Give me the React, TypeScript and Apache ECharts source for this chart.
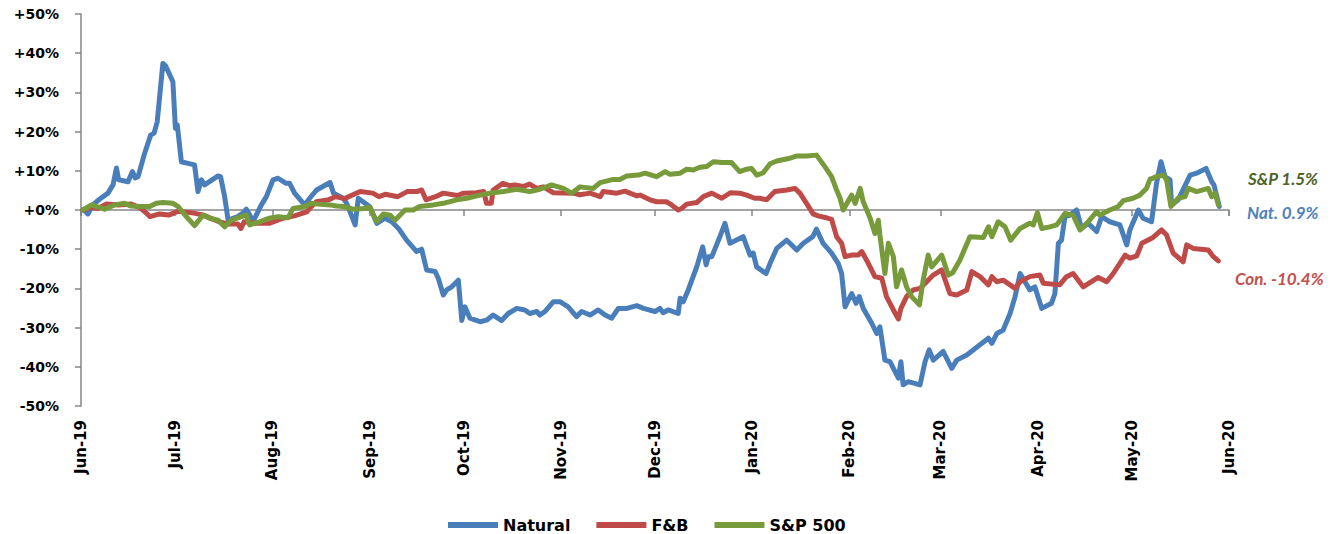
import React, { useEffect, useRef } from "react";
import * as echarts from "echarts";

// Days after 1 Jun 2019, cumulative % change
const START = new Date(2019, 5, 1).getTime();
const END = new Date(2020, 5, 1).getTime();
const DAY = 86400000;

const seriesNames = ["Natural", "F&B", "S&P 500"];
const seriesColors = ["#4A7EBB", "#BE4B48", "#779A3A"];

const natural: [number, number][] = [
  [1, 0], [2.2, -1], [3.8, 1.3], [6, 2.8], [8.6, 4.3], [10.2, 6.4], [11.3, 10.7], [12, 7.7], [15, 7.2], [16.4, 9.8],
  [17.3, 8.2], [18.2, 8.5], [20.3, 14.5], [22.2, 19.1], [23.3, 19.6], [24.3, 22.5], [26.1, 37.4], [27, 36.7], [29.3, 32.7],
  [30.1, 20.8], [30.7, 21.7], [32, 12.3], [34.1, 11.9], [36.2, 11.5], [37.3, 4.7], [38.4, 7.7], [39.4, 6.4], [43.7, 8.7],
  [44.5, 8.5], [45.8, 3.4], [46.9, -2.6], [50, -1.7], [51.6, -0.8], [52.7, 0.2], [53.8, -1.3], [54.8, -3], [57.5, 1.3],
  [59.1, 3.4], [61.2, 7.7], [62.8, 8.1], [65.4, 6.8], [66.5, 6.8], [68.1, 4.3], [71.3, 1.3], [72.9, 3], [75.1, 5.1],
  [79.4, 7], [80.5, 4.3], [83.6, 3], [84.7, 1.7], [87.4, -3.8], [88.4, 3], [92.1, 0.8], [94.3, -3.4], [96.9, -2.1],
  [99.1, -3], [101.2, -4.7], [103.8, -7.7], [107, -10.6], [108.6, -10], [110.2, -15.3], [112.9, -15.7], [113.9, -17.4],
  [115.5, -21.7], [116.6, -20.4], [118.2, -19.6], [120.3, -17.9], [121.4, -28.2], [122.4, -24.7], [124, -27.6],
  [127.2, -28.5], [129.3, -28.1], [131.4, -26.8], [134.1, -28.2], [136.2, -26.4], [138.9, -25.1], [141.5, -25.5],
  [143.1, -26.4], [145.3, -25.9], [146.3, -26.8], [147.9, -25.9], [150.6, -23.4], [152.7, -23.4], [155.3, -24.7],
  [158, -27.2], [159.6, -25.9], [162.3, -26.8], [164.9, -25.5], [167.1, -26.8], [169.2, -27.6], [171.3, -25.1],
  [174, -25.1], [177.2, -24.4], [179.3, -25.1], [183, -25.9], [184.6, -25.1], [185.6, -26.2], [187.2, -25.5],
  [190.4, -26.4], [191, -22.5], [192, -23.4], [193.6, -20.4], [196.3, -14.5], [198.2, -9.4], [199.3, -14], [200, -11.9],
  [201.1, -11.9], [203.7, -6.8], [205.3, -3.4], [206.9, -8.5], [211.1, -6.8], [213.3, -11.5], [214.3, -11], [215.4, -14.5],
  [218.4, -16.2], [219.7, -13.6], [221.8, -9.8], [225, -7.7], [228.2, -10.2], [230.3, -8.5], [233.3, -6.8], [234.5, -4.9],
  [236.6, -8.5], [239.3, -11], [241.4, -13.6], [242.5, -16.2], [243.6, -24.7], [245.7, -21.3], [247.1, -23.8],
  [248.1, -22.1], [249.4, -25.1], [252.1, -28.9], [253.7, -31.5], [254.7, -29.8], [256.3, -38.3], [257.9, -38.7],
  [260.6, -42.9], [261.4, -38.7], [262.1, -44.6], [263.7, -43.8], [267.5, -44.6], [269.1, -38.7], [270.4, -35.7],
  [271.7, -38.3], [274.9, -36.1], [277.6, -40.4], [279.2, -38.3], [282.4, -37], [286.6, -34.4], [289.3, -32.7],
  [290.4, -34], [292, -31.5], [294, -30.6], [296.2, -26.4], [297.8, -22.1], [299.4, -16.2], [302.5, -20.4], [304.1, -19.6],
  [306.3, -25.1], [309.4, -23.8], [310.5, -21.3], [311.6, -8.5], [312.6, -7.7], [313.7, -1.7], [315.3, -1.3], [317.4, 0],
  [319, -4.7], [321.1, -3.4], [323.8, -5.5], [325.4, -1.7], [328, -3], [331.2, -3.8], [333.4, -8.9], [334.4, -5.1],
  [337.1, 0], [338.6, -2.1], [341.3, -3], [342.9, 6.8], [344.3, 12.3], [345.6, 8.5], [347.2, 7.7], [347.7, 1.3],
  [349.8, 2.6], [353.6, 8.9], [355.7, 9.4], [358.7, 10.6], [360.5, 7.2], [361.2, 6.4], [362.9, 0.9],
];

const fnb: [number, number][] = [
  [0.6, 0], [3.3, 0.7], [5.4, 0.4], [8, 1.5], [12, 1.3], [16, 1.5], [19, 0.5], [21, -0.9], [22, -1.7], [25, -1],
  [28, -1.3], [31, -0.3], [36, -0.8], [39, -1.3], [44, -3], [47, -3.6], [50, -3.6], [51, -4.7], [52, -3], [56, -3.4],
  [60, -3.4], [64, -2.2], [68, -1.5], [72, -0.5], [73, 0.5], [75, 2.1], [79, 2.6], [81, 3.4], [84, 2.9], [89, 4.7],
  [93, 4.3], [95, 3.4], [97, 4], [101, 3.4], [104, 4.7], [107, 4.7], [108.6, 5.1], [110, 2.6], [113, 3.4], [115.5, 4.3],
  [120, 3.7], [122, 4.3], [126, 4.4], [128.4, 4.7], [129.3, 1.7], [130.8, 1.7], [131.4, 5.1], [134.5, 6.8], [136.7, 6.2],
  [138.3, 6.4], [141, 6], [143, 6.6], [145.3, 5.5], [147.4, 5.9], [150.6, 4.4], [157, 4.3], [159, 3.9], [162.3, 4.3],
  [165.5, 3.4], [166.5, 4.7], [170.8, 4.3], [173.4, 4.8], [177.2, 3.6], [178.2, 3.8], [181.4, 2.6], [183.5, 2.1],
  [186.7, 2.1], [188.3, 1.3], [190.4, 0], [191.5, 0.4], [193.1, 1.5], [196.3, 1.9], [198.4, 3.4], [201.1, 4.3],
  [204.3, 3], [207, 4.4], [210, 4.3], [212.2, 3.8], [214.8, 3], [216.4, 3], [218.6, 2.6], [221.2, 4.7], [225, 5.1],
  [227.6, 5.5], [229.2, 4.3], [231.3, 1.7], [233.4, -1], [235, -1.5], [237.2, -1.9], [239.3, -2.4], [240.9, -6.8],
  [242.5, -8.5], [243.6, -11.9], [245.7, -11.5], [247.8, -11.5], [248.9, -10.6], [251, -13.6], [253.1, -17],
  [255.3, -17.4], [256.8, -22.1], [259, -25.5], [260.6, -27.8], [261.4, -25.1], [263.2, -22.1], [265.3, -20.4],
  [267.5, -20], [269.6, -18.3], [271.7, -16.6], [274.4, -15.3], [277, -21.3], [279.2, -21.7], [282.4, -20.4],
  [284, -15.7], [286.6, -17], [289.3, -19.1], [290.4, -17], [292, -18.3], [294, -17.9], [297.8, -20], [299.4, -18.3],
  [302.5, -17], [305.7, -16.6], [306.8, -18.7], [312, -19.1], [314.2, -17], [316.3, -16.2], [319.5, -19.6],
  [324.3, -17.2], [327, -18.3], [329.1, -16.2], [332.9, -11.5], [334.4, -12.3], [336.6, -11.7], [338.2, -8.5],
  [341.8, -7], [344.5, -5.1], [346.1, -6.4], [348.2, -11], [351.4, -13.2], [352.5, -8.9], [354.6, -9.8], [359.4, -10.2],
  [361, -11.9], [362.6, -13],
];

const sp500: [number, number][] = [
  [0.6, 0], [3.3, 1.3], [7.5, 0.2], [10.7, 1.3], [13.9, 1.7], [16, 1], [18.7, 0.9], [21.9, 0.9], [24, 1.7], [26.1, 1.9],
  [29.3, 1.7], [30.9, 0.9], [33.6, -1.7], [36.2, -4], [38.9, -1.3], [41, -2.1], [43.7, -2.6], [45.8, -4.3], [47.9, -2.6],
  [51.1, -1.7], [52.7, -1.3], [53.8, -3.8], [56.9, -3], [60.1, -2.1], [62.8, -1.7], [66, -2], [67.6, 0.4], [71.3, 0.9],
  [73.4, 1.7], [75.6, 1.5], [79.4, 1.3], [81.5, 1], [83.6, 0.9], [86.8, 0.2], [90, 0.4], [92.1, 0.7], [94.3, -3],
  [96.4, -1], [98.5, -1.3], [100.1, -2.6], [103.3, 0], [105.9, 0], [108, 0.9], [112.3, 1.3], [115.5, 1.7], [119.8, 2.6],
  [123, 3], [126.2, 3.6], [130.4, 4.3], [134.6, 4.7], [138.9, 5.3], [143.1, 4.7], [146.3, 5.3], [150, 6.4], [153.8, 5.5],
  [156.4, 4.3], [159.1, 5.9], [163.3, 5.5], [165.5, 7], [169.7, 7.8], [171.8, 7.8], [174, 8.7], [177.7, 8.9],
  [179.8, 9.4], [183.5, 8.5], [186.2, 9.8], [187.8, 9.1], [191, 9.4], [193.1, 10.4], [195.2, 10.2], [197.3, 10.9],
  [199.5, 11.1], [201.6, 12.3], [204.3, 12.1], [207.4, 12.1], [210, 9.8], [212.2, 10.4], [213.8, 10.6], [215.4, 8.9],
  [217.5, 9.5], [219.7, 11.8], [221.8, 12.5], [226, 13.2], [228.2, 13.8], [231.3, 13.8], [234.5, 14], [237.2, 11],
  [239.3, 8.5], [240.9, 5.1], [242, 3], [243, 0], [245.7, 3.8], [246.8, 1.7], [248.4, 5.5], [249.4, 2.1], [251.6, -2.1],
  [253.1, -6], [254.2, -2.6], [254.7, -6.4], [256.3, -16.2], [257.4, -8.5], [259, -11.9], [260, -19.6], [261.6, -15.3],
  [263.2, -19.6], [264.8, -22.1], [267.3, -24.2], [268.5, -17.9], [270.1, -11.5], [271.2, -14.5], [274.4, -11.5],
  [276.5, -16.6], [277.9, -16], [280.2, -12.8], [283.4, -6.8], [287.7, -7], [289.3, -4.3], [290.4, -6.8], [292.4, -3],
  [294.6, -4.3], [296.4, -7.7], [299.4, -4.7], [302.5, -3.4], [303.6, -3.8], [304.9, -0.7], [306.3, -4.7], [308.9, -4.3],
  [311.1, -3.8], [313.7, -0.9], [316.3, -1.3], [318.5, -5.1], [321.1, -3], [323.8, -0.4], [324.8, -1.3], [328, 0],
  [330.7, 0.9], [332.3, 2.4], [335.4, 3], [337.6, 3.8], [339.7, 5.5], [340.8, 7.8], [342.9, 8.5], [345, 8.9],
  [346.1, 7.7], [347.5, 0.9], [349.8, 3], [352, 3.4], [353, 5.5], [355.7, 4.7], [359.4, 5.5], [360.5, 3.4], [361.6, 4.3],
  [362.6, 1.3],
];

const seriesData = [natural, fnb, sp500];

const endNotes = ["S&P 1.5%", "Nat. 0.9%", "Con. -10.4%"];
const endNoteColors = ["#4F6228", "#4F81BD", "#C0504D"];

const AXIS_FONT = "'DejaVu Sans', Verdana, sans-serif";

export default function App() {
  const ref = useRef<HTMLDivElement>(null);

  useEffect(() => {
    document.body.style.margin = "0";
    if (!ref.current) return;
    const chart = echarts.init(ref.current, undefined, { renderer: "svg" });

    const axisLineStyle = { color: "#868686", width: 1.5 };
    const timeAxisBase = {
      type: "time" as const,
      min: START,
      max: END,
      splitNumber: 12,
      minInterval: 28 * DAY,
      maxInterval: 31 * DAY,
      splitLine: { show: false },
    };

    chart.setOption({
      animation: false,
      backgroundColor: "#ffffff",
      grid: { left: 81, right: 107, top: 14, bottom: 128, containLabel: false },
      xAxis: [
        {
          ...timeAxisBase,
          axisLine: { show: true, onZero: true, lineStyle: axisLineStyle },
          axisTick: { show: true, length: 6, lineStyle: axisLineStyle },
          axisLabel: { show: false },
        },
        {
          ...timeAxisBase,
          position: "bottom",
          axisLine: { show: false, onZero: false },
          axisTick: { show: false },
          axisLabel: {
            show: true,
            rotate: 90,
            margin: 14,
            formatter: "{MMM}-{yy}",
            fontFamily: AXIS_FONT,
            fontWeight: "bold",
            fontSize: 15,
            color: "#000000",
            showMinLabel: true,
            showMaxLabel: true,
            hideOverlap: false,
          },
        },
      ],
      yAxis: {
        type: "value",
        min: -50,
        max: 50,
        interval: 10,
        axisLine: { show: true, lineStyle: axisLineStyle },
        axisTick: { show: true, length: 6, lineStyle: axisLineStyle },
        splitLine: { show: false },
        axisLabel: {
          margin: 22,
          fontFamily: AXIS_FONT,
          fontWeight: "bold",
          fontSize: 14,
          color: "#000000",
          formatter: (v: number) => (v >= 0 ? "+" : "") + v + "%",
        },
      },
      legend: {
        data: seriesNames,
        left: 443,
        top: 512,
        icon: "rect",
        itemWidth: 50,
        itemHeight: 6,
        itemGap: 26,
        textStyle: {
          fontFamily: AXIS_FONT,
          fontWeight: "bold",
          fontSize: 16,
          color: "#000000",
        },
      },
      series: seriesNames.map((name, i) => ({
        name,
        type: "line",
        xAxisIndex: 0,
        data: seriesData[i].map(([d, v]) => [START + d * DAY, v]),
        showSymbol: false,
        symbol: "none",
        lineStyle: { width: 5, color: seriesColors[i], join: "round", cap: "round" },
        itemStyle: { color: seriesColors[i] },
        z: 2 + i,
      })),
      graphic: [
        { type: "text", x: 1248, y: 178, style: { text: endNotes[0], fill: endNoteColors[0], font: "italic bold 17px Lato", verticalAlign: "middle" } },
        { type: "text", x: 1247, y: 212, style: { text: endNotes[1], fill: endNoteColors[1], font: "italic bold 17px Lato", verticalAlign: "middle" } },
        { type: "text", x: 1235, y: 278, style: { text: endNotes[2], fill: endNoteColors[2], font: "italic bold 17px Lato", verticalAlign: "middle" } },
      ],
    });

    return () => chart.dispose();
  }, []);

  return <div ref={ref} style={{ width: 1336, height: 534 }} />;
}
